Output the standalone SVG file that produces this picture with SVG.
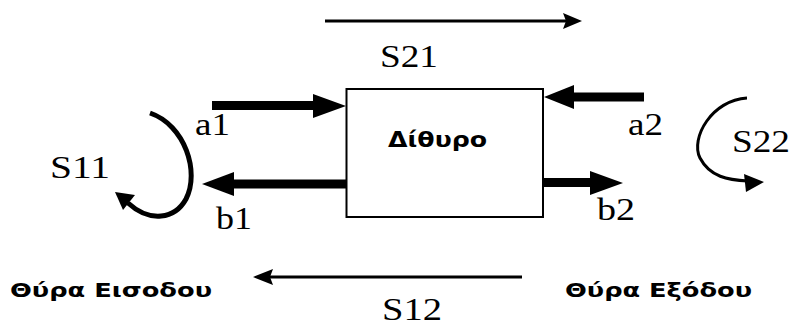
<svg xmlns="http://www.w3.org/2000/svg" width="792" height="327" viewBox="0 0 792 327">
  <style>
    .mono { font-family: "Liberation Serif", "Times New Roman", serif; font-size: 32px; fill: #000; }
    .greek { font-family: "DejaVu Sans", "Liberation Sans", sans-serif; font-weight: bold; fill: #000; }
    .thin { stroke: #000; stroke-width: 3; fill: none; }
    .thick { stroke: #000; stroke-width: 9; fill: none; }
    .head { fill: #000; stroke: none; }
  </style>
  <rect width="792" height="327" fill="#fff"/>

  <g id="node-dithyro">
    <rect x="346.5" y="89" width="196.5" height="128" fill="#fff" stroke="#000" stroke-width="2"/>
    <text class="greek" x="388" y="147" font-size="21" textLength="99" lengthAdjust="spacingAndGlyphs">Δίθυρο</text>
  </g>

  <g id="port-input">
    <text class="greek" x="10" y="297" font-size="19" textLength="202" lengthAdjust="spacingAndGlyphs">Θύρα Εισοδου</text>
  </g>

  <g id="port-output">
    <text class="greek" x="565" y="297" font-size="19" textLength="187" lengthAdjust="spacingAndGlyphs">Θύρα Εξόδου</text>
  </g>

  <g id="connectors">
    <!-- S21 -->
    <line class="thin" x1="325" y1="21" x2="566" y2="21"/>
    <polygon class="head" points="582,21 563,13 566,21 563,29"/>
    <!-- S12 -->
    <line class="thin" x1="270" y1="277" x2="522" y2="277"/>
    <polygon class="head" points="253,277 273,269 270,277 273,285"/>
    <!-- a1 -->
    <line class="thick" x1="212" y1="105.5" x2="316" y2="105.5"/>
    <polygon class="head" points="346,106 313,94 313,118"/>
    <!-- b1 -->
    <line class="thick" x1="231" y1="184" x2="346" y2="184"/>
    <polygon class="head" points="202,184 234,172 234,196"/>
    <!-- a2 -->
    <line class="thick" x1="571" y1="97" x2="644" y2="97" stroke-width="8"/>
    <polygon class="head" points="544,97 574,85 574,109"/>
    <!-- b2 -->
    <line class="thick" x1="543" y1="182.5" x2="592" y2="182.5"/>
    <polygon class="head" points="623,183 590,171 590,195"/>
    <!-- S11 loop -->
    <path d="M150,113 C185,125 200,172 186,199 C175,219 150,223 128,203" stroke="#000" stroke-width="5" fill="none"/>
    <polygon class="head" points="115,192 135,195 123,210"/>
    <!-- S22 loop -->
    <path d="M747,98 C712,100 690,138 700,158 C710,177 728,180 748,181" class="thin"/>
    <polygon class="head" points="764,182 744,174 746,192"/>
  </g>

  <g id="labels">
    <text class="mono" x="380" y="67" textLength="58" lengthAdjust="spacingAndGlyphs">S21</text>
    <text class="mono" x="382" y="320" font-size="30" textLength="60" lengthAdjust="spacingAndGlyphs">S12</text>
    <text class="mono" x="50" y="178" textLength="60" lengthAdjust="spacingAndGlyphs">S11</text>
    <text class="mono" x="732" y="152" textLength="58" lengthAdjust="spacingAndGlyphs">S22</text>
    <text class="mono" x="195" y="135" textLength="35" lengthAdjust="spacingAndGlyphs">a1</text>
    <text class="mono" x="628" y="135" textLength="35" lengthAdjust="spacingAndGlyphs">a2</text>
    <text class="mono" x="216" y="229" textLength="36" lengthAdjust="spacingAndGlyphs">b1</text>
    <text class="mono" x="597" y="220" textLength="38" lengthAdjust="spacingAndGlyphs">b2</text>
  </g>
</svg>
